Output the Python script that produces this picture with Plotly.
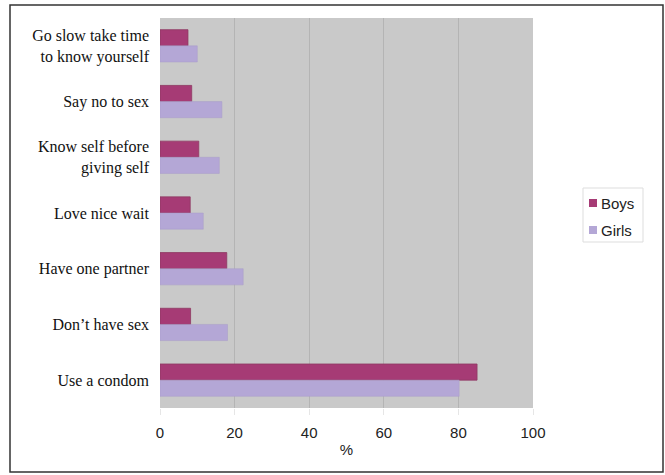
import plotly.graph_objects as go

categories = [
    "Go slow take time<br>to know yourself",
    "Say no to sex",
    "Know self before<br>giving self",
    "Love nice wait",
    "Have one partner",
    "Don\u2019t have sex",
    "Use a condom",
]
boys = [7.5, 8.5, 10.4, 8.1, 17.9, 8.2, 85.0]
girls = [10.0, 16.6, 15.9, 11.6, 22.3, 18.1, 80.2]
x_ticks = [0, 20, 40, 60, 80, 100]
series_names = ["Boys", "Girls"]
series_colors = ["#a63b75", "#b4a7d6"]

# plot area in pixels: x 160..533, y 18..408
PL, PR, PT, PB = 160, 533, 18, 408


def px_x(v):
    return (v - PL) / (PR - PL)


def px_y(v):
    return (PB - v) / (PB - PT)


fig = go.Figure()
fig.add_trace(go.Bar(
    name=series_names[0], y=categories, x=boys, orientation="h",
    marker=dict(color=series_colors[0], line=dict(color="#8e3a62", width=0.8)),
))
fig.add_trace(go.Bar(
    name=series_names[1], y=categories, x=girls, orientation="h",
    marker=dict(color=series_colors[1], line=dict(color="#a99cc8", width=0.5)),
))

# outer frame and legend box drawn as shapes + text
shapes = [
    dict(type="rect", xref="paper", yref="paper",
         x0=px_x(10), x1=px_x(663), y0=px_y(472), y1=px_y(5),
         line=dict(color="#333333", width=1.5), fillcolor="rgba(0,0,0,0)",
         layer="below"),
    dict(type="rect", xref="paper", yref="paper",
         x0=px_x(583), x1=px_x(643), y0=px_y(242), y1=px_y(188),
         line=dict(color="#dddddd", width=1), fillcolor="white"),
]
annotations = []
for i, (name, col) in enumerate(zip(series_names, series_colors)):
    cy = 203 + i * 27
    shapes.append(dict(type="rect", xref="paper", yref="paper",
                       x0=px_x(589), x1=px_x(597), y0=px_y(cy + 4), y1=px_y(cy - 4),
                       line=dict(color=col, width=0), fillcolor=col))
    annotations.append(dict(xref="paper", yref="paper", x=px_x(599), y=px_y(cy),
                            xanchor="left", yanchor="middle", text=name, showarrow=False,
                            font=dict(family="Liberation Sans, Arial", size=15, color="#222222")))

fig.update_layout(
    width=665, height=475,
    margin=dict(l=PL, r=665 - PR, t=PT, b=475 - PB, autoexpand=False),
    paper_bgcolor="white",
    plot_bgcolor="#c9c9c9",
    barmode="group",
    bargap=0.42,
    bargroupgap=0,
    showlegend=False,
    xaxis=dict(
        range=[0, 100], tickvals=x_ticks,
        showgrid=True, gridcolor="#b4b4b4", gridwidth=1,
        zeroline=False, showline=False,
        ticks="outside", ticklen=6, tickcolor="#e6e6e6",
        ticklabelstandoff=5,
        tickfont=dict(family="Liberation Sans, Arial", size=15, color="#222222"),
        title=dict(text="%", standoff=4,
                   font=dict(family="Liberation Sans, Arial", size=15, color="#222222")),
    ),
    yaxis=dict(
        autorange="reversed",
        showgrid=False, zeroline=False, showline=False,
        ticks="", ticklabelstandoff=10,
        tickfont=dict(family="Liberation Serif, Times New Roman", size=16, color="#111111"),
    ),
    shapes=shapes,
    annotations=annotations,
)

fig.write_html("out.html")
